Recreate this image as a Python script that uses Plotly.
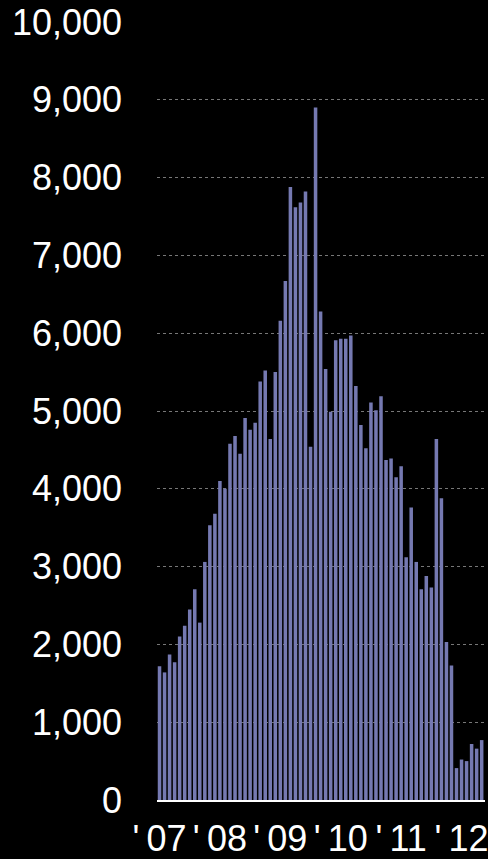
import plotly.graph_objects as go

# monthly values, Jan 2007 onwards
months = list(range(65))
values = [
    1720, 1640, 1870, 1770, 2100, 2240, 2450, 2710, 2280, 3060, 3530, 3680,
    4100, 4000, 4580, 4680, 4450, 4910, 4760, 4850, 5380, 5520, 4640, 5500,
    6160, 6670, 7880, 7620, 7680, 7820, 4540, 8900, 6280, 5540, 4990, 5910,
    5930, 5930, 5970, 5320, 4820, 4520, 5110, 5010, 5190, 4370, 4390, 4150,
    4290, 3120, 3760, 3060, 2710, 2880, 2730, 4640, 3880, 2030, 1730, 410,
    520, 500, 720, 660, 770,
]
year_ticks = [0, 12, 24, 36, 48, 60]
year_labels = ["'\u200907", "'\u200908", "'\u200909",
               "'\u200910", "'\u200911", "'\u200912"]
y_ticks = list(range(0, 10001, 1000))

fig = go.Figure(go.Bar(
    x=months,
    y=values,
    marker=dict(color="#7579b1", line=dict(width=0)),
))

fig.update_layout(
    width=488, height=859,
    margin=dict(l=157, r=0, t=22, b=57),
    paper_bgcolor="black",
    plot_bgcolor="black",
    bargap=0.3,
    showlegend=False,
    font=dict(family="Liberation Sans, Arial, sans-serif", color="white"),
)
fig.update_xaxes(
    range=[-0.5, 64.66],
    tickvals=year_ticks, ticktext=year_labels,
    tickfont_size=36, ticklabeloverflow="allow",
    showgrid=False, zeroline=False,
    showline=True, linecolor="white", linewidth=2,
    ticks="", ticklabelstandoff=6,
)
fig.update_yaxes(
    range=[0, 10000],
    tickvals=y_ticks, tickformat=",",
    tickfont_size=36,
    showgrid=True, gridcolor="#777777", griddash="dot", gridwidth=1,
    zeroline=False, showline=False, layer="above traces",
    ticks="", ticklabelstandoff=34,
)

fig.write_html("out.html", config={"displayModeBar": False},
               post_script="document.body.style.margin='0';")
